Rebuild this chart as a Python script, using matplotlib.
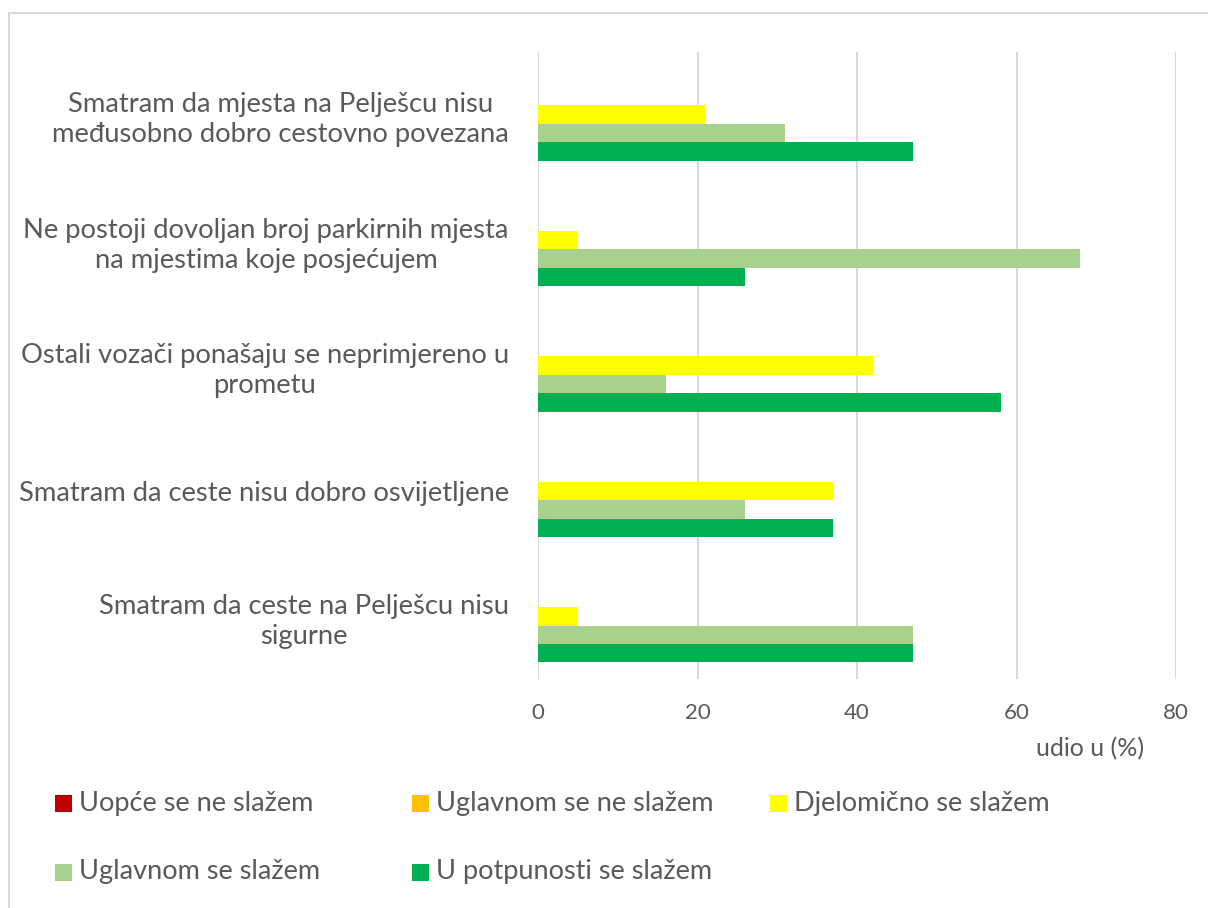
import numpy as np
import matplotlib
matplotlib.use("Agg")
import matplotlib.pyplot as plt
from matplotlib.patches import Rectangle
from matplotlib.lines import Line2D

# ------------------ DATA ------------------
categories = [
    "Smatram da mjesta na Pelješcu nisu\nmeđusobno dobro cestovno povezana",
    "Ne postoji dovoljan broj parkirnih mjesta\nna mjestima koje posjećujem",
    "Ostali vozači ponašaju se neprimjereno u\nprometu",
    "Smatram da ceste nisu dobro osvijetljene",
    "Smatram da ceste na Pelješcu nisu\nsigurne",
]
series_names = [
    "Uopće se ne slažem",
    "Uglavnom se ne slažem",
    "Djelomično se slažem",
    "Uglavnom se slažem",
    "U potpunosti se slažem",
]
uopce_ne = [0, 0, 0, 0, 0]
uglavnom_ne = [0, 0, 0, 0, 0]
djelomicno = [21, 5, 42, 37, 5]
uglavnom_da = [31, 68, 16, 26, 47]
potpuno = [47, 26, 58, 37, 47]
x_ticks = [0, 20, 40, 60, 80]
x_title = "udio u (%)"

colors = ["#C00000", "#FFC000", "#FFFF00", "#A9D18E", "#00B050"]
values = [uopce_ne, uglavnom_ne, djelomicno, uglavnom_da, potpuno]

TEXT = "#595959"
GRID = "#D9D9D9"
plt.rcParams["font.family"] = ["Lato", "DejaVu Sans"]

# ------------------ PLOT ------------------
fig = plt.figure(figsize=(12.08, 9.08), dpi=100)
ax = fig.add_axes([538 / 1208, 1 - 679 / 908, 638 / 1208, 627 / 908])

n_cat = len(categories)
y_base = np.arange(n_cat)[::-1]  # first category on top
h = 0.147
for i, (vals, col) in enumerate(zip(values, colors)):
    ax.barh(y_base - (i - 2) * h, vals, height=h, color=col, linewidth=0)

ax.set_xlim(0, 80)
ax.set_ylim(-0.5, n_cat - 0.5)
ax.set_xticks(x_ticks)
ax.set_xticklabels([str(t) for t in x_ticks])
ax.set_yticks(y_base)
ax.set_yticklabels(categories, multialignment="center", linespacing=1.25)
ax.tick_params(axis="y", length=0, pad=21, labelsize=19.7, labelcolor=TEXT)
ax.tick_params(axis="x", length=0, pad=17, labelsize=16, labelcolor=TEXT)
for s in ax.spines.values():
    s.set_visible(False)
ax.xaxis.grid(True, color=GRID, linewidth=1.5)
ax.set_axisbelow(True)

fig.text(1090 / 1208, 1 - 749 / 908, x_title, ha="center", va="center",
         fontsize=18, color=TEXT)

# ------------------ LEGEND ------------------
col_x = [55, 412, 770]
row_y = [803, 872]
for k, name in enumerate(series_names):
    cx = col_x[k % 3]
    cy = row_y[k // 3]
    fig.patches.append(Rectangle((cx / 1208, 1 - (cy + 8.5) / 908), 17 / 1208, 17 / 908,
                                 transform=fig.transFigure, color=colors[k], linewidth=0))
    fig.text((cx + 24) / 1208, 1 - cy / 908, name, ha="left", va="center",
             fontsize=19.5, color=TEXT)

# chart border (top and left edges visible)
fig.add_artist(Line2D([9 / 1208, 1], [1 - 13 / 908, 1 - 13 / 908], color=GRID, linewidth=1.5,
                      transform=fig.transFigure))
fig.add_artist(Line2D([9 / 1208, 9 / 1208], [0, 1 - 13 / 908], color=GRID, linewidth=1.5,
                      transform=fig.transFigure))

fig.savefig("out.png", dpi=100)
